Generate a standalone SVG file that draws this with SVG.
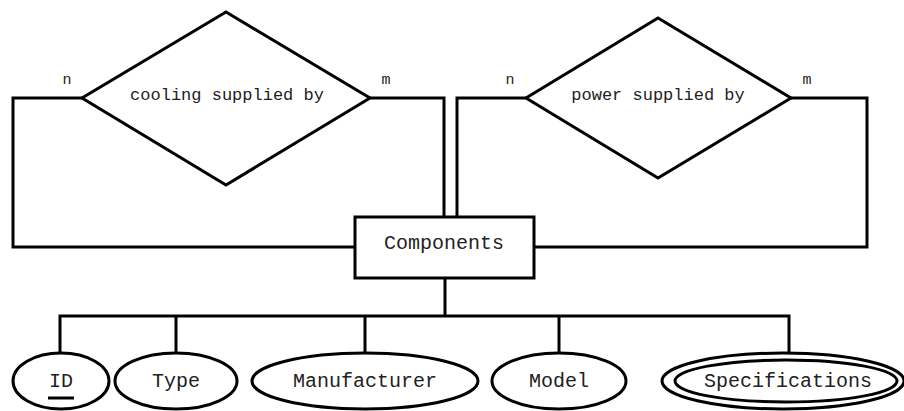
<svg xmlns="http://www.w3.org/2000/svg" width="904" height="411" viewBox="0 0 904 411">
<style>
.s{fill:#fff;stroke:#000;stroke-width:3}
.c{fill:none;stroke:#000;stroke-width:3}
text{font-family:"Liberation Mono","Courier New",monospace;fill:#222;text-anchor:middle}
.a{font-size:20px}
.r{font-size:17px}
.l{font-size:15px}
</style>
<rect width="904" height="411" fill="#fff"/>
<g id="connectors">
<polyline class="c" points="82,98 13,98 13,247 355,247"/>
<polyline class="c" points="370,98 444,98 444,217"/>
<polyline class="c" points="526,98 457,98 457,217"/>
<polyline class="c" points="791,98 867,98 867,247 534,247"/>
<line class="c" x1="445" y1="278" x2="445" y2="316"/>
<polyline class="c" points="60,354 60,316 789,316 789,354"/>
<line class="c" x1="176" y1="316" x2="176" y2="354"/>
<line class="c" x1="365" y1="316" x2="365" y2="354"/>
<line class="c" x1="559" y1="316" x2="559" y2="354"/>
<text class="l" x="67" y="84">n</text>
<text class="l" x="386" y="84">m</text>
<text class="l" x="510" y="84">n</text>
<text class="l" x="807" y="84">m</text>
</g>
<g id="cooling">
<polygon class="s" points="226,12 370,98 226,185 82,98"/>
<text class="r" x="227" y="100">cooling supplied by</text>
</g>
<g id="power">
<polygon class="s" points="658,18 791,98 658,178 526,98"/>
<text class="r" x="658" y="100">power supplied by</text>
</g>
<g id="components">
<rect class="s" x="355" y="217" width="179" height="61"/>
<text class="a" x="444" y="249">Components</text>
</g>
<g id="id">
<ellipse class="s" cx="61" cy="381" rx="48" ry="28"/>
<text class="a" x="61" y="387">ID</text>
<line x1="48" y1="398" x2="74" y2="398" stroke="#000" stroke-width="3"/>
</g>
<g id="type">
<ellipse class="s" cx="176" cy="381" rx="61" ry="28"/>
<text class="a" x="176" y="387">Type</text>
</g>
<g id="manufacturer">
<ellipse class="s" cx="365" cy="381" rx="113" ry="28"/>
<text class="a" x="365" y="387">Manufacturer</text>
</g>
<g id="model">
<ellipse class="s" cx="559" cy="381" rx="67" ry="28"/>
<text class="a" x="559" y="387">Model</text>
</g>
<g id="specifications">
<ellipse class="s" cx="783" cy="381" rx="121" ry="28"/>
<ellipse class="s" cx="786" cy="381" rx="111" ry="21"/>
<text class="a" x="788" y="387">Specifications</text>
</g>
</svg>
